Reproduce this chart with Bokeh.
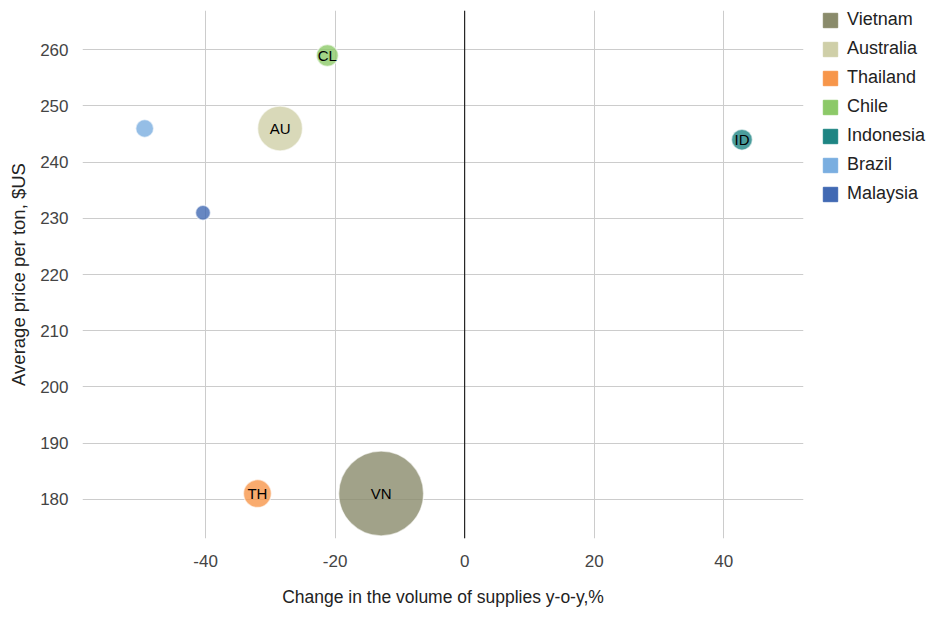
from bokeh.plotting import figure
from bokeh.models import ColumnDataSource, Legend, LegendItem, Span, FixedTicker, Range1d
from bokeh.embed import file_html
from bokeh.resources import INLINE
from bokeh.core.properties import value

countries = ["Vietnam", "Australia", "Thailand", "Chile", "Indonesia", "Brazil", "Malaysia"]
codes = ["VN", "AU", "TH", "CL", "ID", "", ""]
change = [-12.9, -28.5, -32.0, -21.2, 42.8, -49.4, -40.4]
price = [181, 246, 181, 259, 244, 246, 231]
bubble = [85, 45, 28, 22, 21, 18, 15]
colors = ["#8a8b6b", "#cfcfa8", "#f7964a", "#8cc968", "#1e8583", "#7aaee0", "#4169b3"]
x_ticks = [-40, -20, 0, 20, 40]
y_ticks = [180, 190, 200, 210, 220, 230, 240, 250, 260]

FONT = "Liberation Sans"

p = figure(width=930, height=612, output_backend="svg", toolbar_location=None,
           x_range=Range1d(-59, 52.3), y_range=Range1d(173, 267),
           frame_width=721, frame_height=528,
           min_border_left=82, min_border_right=0, min_border_top=10, min_border_bottom=70)
p.outline_line_color = None
p.background_fill_color = "white"

p.xaxis.ticker = FixedTicker(ticks=x_ticks)
p.yaxis.ticker = FixedTicker(ticks=y_ticks)
p.xaxis.major_label_overrides = {t: str(t) for t in x_ticks}
for ax in (p.xaxis[0], p.yaxis[0]):
    ax.axis_line_color = None
    ax.major_tick_line_color = None
    ax.minor_tick_line_color = None
    ax.major_label_text_font = FONT
    ax.major_label_text_font_size = "17px"
    ax.major_label_text_color = "#444444"
    ax.axis_label_text_font = FONT
    ax.axis_label_text_font_style = "normal"
    ax.axis_label_text_color = "#222222"
p.xaxis.axis_label = "Change in the volume of supplies y-o-y,%"
p.yaxis.axis_label = "Average price per ton, $US"
p.xaxis.axis_label_text_font_size = "17.5px"
p.yaxis.axis_label_text_font_size = "18.5px"
p.xaxis.major_label_standoff = 10
p.xaxis.axis_label_standoff = 17
p.yaxis.major_label_standoff = 8
p.yaxis.axis_label_standoff = 8

p.xgrid.ticker = FixedTicker(ticks=x_ticks)
p.ygrid.ticker = FixedTicker(ticks=y_ticks)
p.grid.grid_line_color = "#cccccc"
p.grid.grid_line_width = 1

p.add_layout(Span(location=0, dimension="height", line_color="black", line_width=1))

src = ColumnDataSource(dict(x=change, y=price, s=bubble, c=colors, code=codes, name=countries))
p.scatter("x", "y", size="s", fill_color="c", fill_alpha=0.8, line_color="white",
          line_alpha=0.6, line_width=1.5, source=src)
p.text("x", "y", text="code", source=src, text_align="center", text_baseline="middle",
       text_font=value(FONT), text_font_size="15px", text_color="black")

items = []
for n, c in zip(countries, colors):
    r = p.quad(left=[0], right=[0], bottom=[180], top=[180], fill_color=c, line_color=c,
               visible=False)
    items.append(LegendItem(label=n, renderers=[r]))
legend = Legend(items=items, location=(18, 334), orientation="vertical",
                glyph_width=18, glyph_height=18, label_height=18, spacing=8,
                label_standoff=8, padding=0, margin=0, border_line_color=None,
                background_fill_alpha=0, label_text_font=FONT,
                label_text_font_size="18px", label_text_color="#222222")
p.add_layout(legend, "right")

open("out.html", "w").write(file_html(p, INLINE))
